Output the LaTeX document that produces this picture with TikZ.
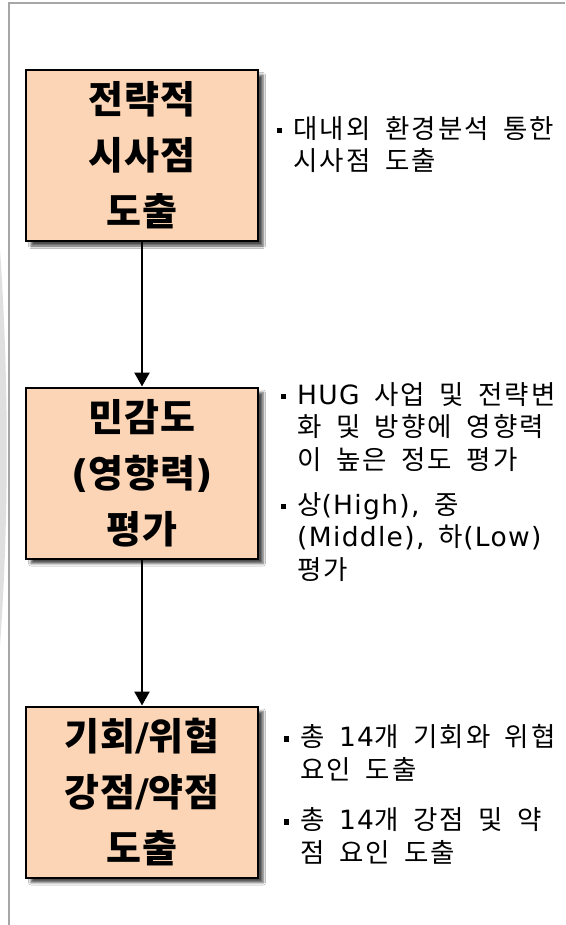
\documentclass[tikz,border=0pt]{standalone}
\usepackage{fontspec}
\usetikzlibrary{arrows.meta,shadows.blur}
\newfontfamily\kr{Noto Sans CJK KR}[WordSpace=1.8,LetterSpace=8]
\newfontfamily\krb{Noto Sans CJK KR}[LetterSpace=2]
\newfontfamily\lat{DejaVu Sans}[LetterSpace=5]
\newfontfamily\latb{DejaVu Sans}[LetterSpace=2]
\definecolor{boxfill}{HTML}{FBD5B5}
\definecolor{framegray}{HTML}{A6A6A6}
\def\bul{\llap{\rule[5pt]{5.5pt}{5.5pt}\hspace{11pt}}}
\def\en#1{{\lat #1}}
\def\enb#1{{\latb #1}}
\tikzset{
	stepbox/.style={draw=black, line width=2pt, fill=boxfill, minimum width=232pt, minimum height=171pt, align=center, font=\fontsize{38}{56}\selectfont\bfseries\krb, blur shadow={shadow xshift=5pt, shadow yshift=-5pt, shadow blur radius=2.5pt, shadow opacity=70}},
	note/.style={anchor=base west, align=left, inner sep=0pt, font=\fontsize{26.5}{32.5}\selectfont\kr},
	flow/.style={line width=2.5pt, -{Triangle[width=15pt,length=14pt]}},
}

\begin{document}
\begin{tikzpicture}[x=1pt,y=-1pt]
		%%%%% START %%%%%
		\useasboundingbox (0,0) rectangle (565,925);
		\fill[white] (0,0) rectangle (565,925);
		
		\fill[gray!25] (0,250) .. controls (9,380) and (9,520) .. (0,645) -- cycle;
		\draw[framegray, line width=2pt] (9,925) -- (9,3.5) -- (565,3.5);
		
		\node[stepbox] (find) at (142,155.5) {전략적\\시사점\\도출};
		\node[stepbox] (rate) at (142,473) {민감도\\\enb{(}영향력\enb{)}\\평가};
		\node[stepbox] (swot) at (142,792) {기회\enb{/}위협\\강점\enb{/}약점\\도출};
		
		\draw[flow] (find) -- (rate);
		\draw[flow] (rate) -- (swot);
		
		% anchor base = last line
		\node[note] (note1) at (293,171) {\bul 대내외 환경분석 통한\\시사점 도출};
		\node[note] (note2a) at (297,469) {\bul \en{HUG} 사업 및 전략변\\화 및 방향에 영향력\\이 높은 정도 평가};
		\node[note] (note2b) at (297,579) {\bul 상\en{(High),} 중\\\en{(Middle),} 하\en{(Low)}\\평가};
		\node[note] (note3a) at (300,779) {\bul 총 \en{14}개 기회와 위협\\요인 도출};
		\node[note] (note3b) at (300,862) {\bul 총 \en{14}개 강점 및 약\\점 요인 도출};
		%%%%% END %%%%%
\end{tikzpicture}
\end{document}
